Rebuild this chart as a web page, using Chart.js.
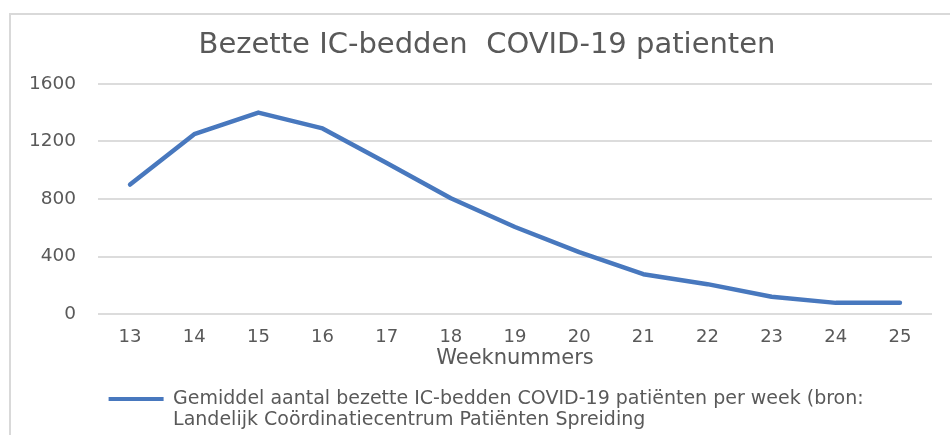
<!DOCTYPE html>
<html>
<head>
<meta charset="utf-8">
<script src="https://cdn.jsdelivr.net/npm/chart.js@4/dist/chart.umd.min.js"></script>
<style>
  html, body { margin: 0; padding: 0; background: #ffffff; overflow: hidden; }
  #wrap { position: relative; width: 950px; height: 435px; overflow: hidden; }
  #frameTop { position: absolute; left: 9px; top: 13px; width: 941px; height: 2px; background: #d9d9d9; }
  #frameLeft { position: absolute; left: 9px; top: 13px; width: 2px; height: 422px; background: #d9d9d9; }
  #c { position: absolute; left: 0; top: 0; }
</style>
</head>
<body>
<div id="wrap">
  <div id="frameTop"></div>
  <div id="frameLeft"></div>
  <canvas id="c" width="950" height="435"></canvas>
</div>
<script>
const weeks = ['13', '14', '15', '16', '17', '18', '19', '20', '21', '22', '23', '24', '25'];
const icBeds = [900, 1250, 1400, 1290, 1050, 805, 605, 430, 277, 208, 120, 78, 78];
const yTicks = [0, 400, 800, 1200, 1600];
const chartTitle = 'Bezette IC-bedden  COVID-19 patienten';
const xAxisTitle = 'Weeknummers';
const seriesLabel = ['Gemiddel aantal bezette IC-bedden COVID-19 patiënten per week (bron:',
                     'Landelijk Coördinatiecentrum Patiënten Spreiding'];

const FONT = "'DejaVu Sans', sans-serif";
const TXT = '#595959';
const LINE = '#4878be';

const boxShift = {
  id: 'boxShift',
  afterLayout(chart) {
    const lg = chart.legend;
    lg.left += 66;
    lg.right = chart.width;
    lg.bottom = chart.height;
    const tb = chart.titleBlock;
    tb.left += 9;
    tb.right += 9;
  }
};

new Chart(document.getElementById('c'), {
  type: 'line',
  data: {
    labels: weeks,
    datasets: [{
      label: seriesLabel.join(' '),
      data: icBeds,
      borderColor: LINE,
      backgroundColor: LINE,
      borderWidth: 4.5,
      pointRadius: 0,
      tension: 0,
      borderJoinStyle: 'round',
      borderCapStyle: 'round'
    }]
  },
  options: {
    responsive: false,
    animation: false,
    devicePixelRatio: 1,
    layout: { padding: { left: 24, right: 18, top: 0, bottom: 16.5 } },
    plugins: {
      title: {
        display: true,
        text: chartTitle,
        color: TXT,
        font: { family: FONT, size: 29, weight: 'normal' },
        padding: { top: 28, bottom: 21 }
      },
      legend: {
        display: true,
        position: 'bottom',
        align: 'start',
        labels: {
          color: TXT,
          font: { family: FONT, size: 19, lineHeight: 1.1 },
          boxWidth: 55,
          boxHeight: 4,
          padding: 18.6,
          generateLabels(chart) {
            const ds = chart.data.datasets[0];
            return [{
              text: seriesLabel,
              fillStyle: ds.borderColor,
              strokeStyle: ds.borderColor,
              lineWidth: 0,
              fontColor: TXT,
              datasetIndex: 0,
              hidden: false
            }];
          }
        }
      },
      tooltip: { enabled: false }
    },
    scales: {
      x: {
        offset: true,
        grid: { display: false, drawTicks: false },
        border: { display: false },
        ticks: { color: TXT, font: { family: FONT, size: 18 }, padding: 12, maxRotation: 0 },
        title: { display: true, text: xAxisTitle, color: TXT, font: { family: FONT, size: 21 }, padding: { top: -14, bottom: 0 } }
      },
      y: {
        min: yTicks[0],
        max: yTicks[yTicks.length - 1],
        afterBuildTicks(scale) { scale.ticks = yTicks.map(v => ({ value: v })); },
        afterFit(scale) { scale.width = 74; },
        grid: { color: '#dcdcdc', lineWidth: 2, drawTicks: false },
        border: { display: false },
        ticks: { color: TXT, font: { family: FONT, size: 18.5 }, padding: 22, callback: v => String(v) }
      }
    }
  },
  plugins: [boxShift]
});
</script>
</body>
</html>
